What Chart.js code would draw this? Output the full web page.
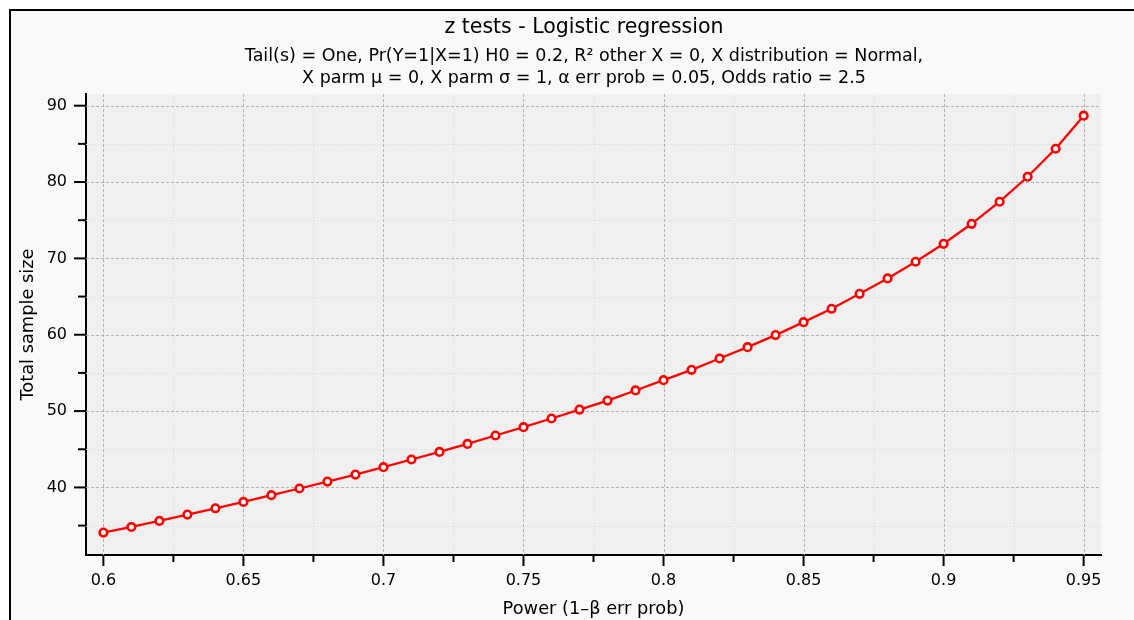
<!DOCTYPE html>
<html>
<head>
<meta charset="utf-8">
<script src="https://cdn.jsdelivr.net/npm/chart.js@4.4.1/dist/chart.umd.min.js"></script>
<style>
  html, body { margin: 0; padding: 0; background: #fff; }
  #frame {
    position: absolute; left: 9px; top: 9px; right: -4px; bottom: -4px;
    background: #f9f9f9; border-top: 2px solid #000; border-left: 2px solid #000;
  }
  #chart { position: absolute; left: 0; top: 0; }
</style>
</head>
<body>
<div id="frame"></div>
<canvas id="chart" width="1134" height="620"></canvas>
<script>
// Power (1-beta) on x, total sample size on y
const powerValues = [0.6, 0.61, 0.62, 0.63, 0.64, 0.65, 0.66, 0.67, 0.68, 0.69,
  0.7, 0.71, 0.72, 0.73, 0.74, 0.75, 0.76, 0.77, 0.78, 0.79,
  0.8, 0.81, 0.82, 0.83, 0.84, 0.85, 0.86, 0.87, 0.88, 0.89,
  0.9, 0.91, 0.92, 0.93, 0.94, 0.95];
const sampleSizes = [34.09, 34.82, 35.61, 36.45, 37.27, 38.10, 38.98, 39.86, 40.77, 41.69,
  42.65, 43.66, 44.65, 45.70, 46.80, 47.89, 49.03, 50.2, 51.38, 52.70,
  54.05, 55.40, 56.89, 58.37, 59.95, 61.65, 63.40, 65.36, 67.38, 69.56,
  71.91, 74.53, 77.42, 80.69, 84.36, 88.69];

// tick values (major ones get labels)
const xTicks = [0.6, 0.625, 0.65, 0.675, 0.7, 0.725, 0.75, 0.775, 0.8, 0.825,
  0.85, 0.875, 0.9, 0.925, 0.95];
const xMajor = [0.6, 0.65, 0.7, 0.75, 0.8, 0.85, 0.9, 0.95];
const yTicks = [35, 40, 45, 50, 55, 60, 65, 70, 75, 80, 85, 90];
const yMajor = [40, 50, 60, 70, 80, 90];

const chartTitle = 'z tests - Logistic regression';
const chartSubtitle = [
  'Tail(s) = One, Pr(Y=1|X=1) H0 = 0.2, R² other X = 0, X distribution = Normal,',
  'X parm μ = 0, X parm σ = 1, α err prob = 0.05, Odds ratio = 2.5'
];
const xTitle = 'Power (1–β err prob)';
const yTitle = 'Total sample size';

const FONT = 'DejaVu Sans';

function isMajor(list, v) {
  return list.some(m => Math.abs(m - v) < 1e-9);
}

// plot background, grid lines and tick marks
const plotDecor = {
  id: 'plotDecor',
  afterLayout(chart) {
    // titles are centred on the frame, not on the canvas
    chart.boxes.filter(b => b.position === 'top').forEach(b => {
      b.left = 34;
      b.right = 1134;
    });
  },
  beforeDraw(chart) {
    const { ctx, chartArea: a } = chart;
    ctx.save();
    ctx.fillStyle = '#f0f0f0';
    ctx.fillRect(a.left, a.top, a.right - a.left, a.bottom - a.top);
    ctx.restore();
  },
  beforeDatasetsDraw(chart) {
    const { ctx, chartArea: a, scales: { x, y } } = chart;
    ctx.save();
    ctx.lineWidth = 1;
    // minor first, then major on top
    [false, true].forEach(major => {
      ctx.strokeStyle = major ? '#b3b3b3' : '#d9d9d9';
      ctx.setLineDash(major ? [3, 2] : [1, 2]);
      x.ticks.forEach(t => {
        if (t.major !== major) return;
        const px = Math.round(x.getPixelForValue(t.value)) + 0.5;
        ctx.beginPath();
        ctx.moveTo(px, a.top);
        ctx.lineTo(px, a.bottom);
        ctx.stroke();
      });
      y.ticks.forEach(t => {
        if (t.major !== major) return;
        const py = Math.round(y.getPixelForValue(t.value)) + 0.5;
        ctx.beginPath();
        ctx.moveTo(a.left, py);
        ctx.lineTo(a.right, py);
        ctx.stroke();
      });
    });
    ctx.restore();
  },
  afterDraw(chart) {
    const { ctx, chartArea: a, scales: { x, y } } = chart;
    ctx.save();
    ctx.strokeStyle = '#000';
    ctx.lineWidth = 2;
    ctx.setLineDash([]);
    x.ticks.forEach(t => {
      const px = x.getPixelForValue(t.value);
      ctx.beginPath();
      ctx.moveTo(px, a.bottom);
      ctx.lineTo(px, a.bottom + (t.major ? 11 : 7));
      ctx.stroke();
    });
    y.ticks.forEach(t => {
      const py = y.getPixelForValue(t.value);
      ctx.beginPath();
      ctx.moveTo(a.left, py);
      ctx.lineTo(a.left - (t.major ? 12 : 8), py);
      ctx.stroke();
    });
    ctx.restore();
  }
};

const points = powerValues.map((p, i) => ({ x: p, y: sampleSizes[i] }));

new Chart(document.getElementById('chart'), {
  type: 'line',
  data: {
    datasets: [{
      data: points,
      borderColor: '#ff0000',
      borderWidth: 2.3,
      tension: 0,
      pointRadius: 3.8,
      pointHoverRadius: 3.8,
      pointBorderWidth: 2.6,
      pointBackgroundColor: '#ffffff',
      pointBorderColor: '#ff0000'
    }]
  },
  options: {
    responsive: false,
    animation: false,
    layout: { padding: { top: 10, right: 33, bottom: 0, left: 0 } },
    plugins: {
      legend: { display: false },
      tooltip: { enabled: false },
      title: {
        display: true,
        text: chartTitle,
        color: '#000',
        font: { family: FONT, size: 20.5, weight: 'normal', lineHeight: '24.6px' },
        padding: { top: 5.7, bottom: 1 }
      },
      subtitle: {
        display: true,
        text: chartSubtitle,
        color: '#000',
        font: { family: FONT, size: 17.5, weight: 'normal', lineHeight: '21.6px' },
        padding: { top: 4.6, bottom: 4.9 }
      }
    },
    scales: {
      x: {
        type: 'linear',
        min: 0.5938,
        max: 0.9562,
        afterBuildTicks: scale => {
          scale.ticks = xTicks.map(v => ({ value: v, major: isMajor(xMajor, v) }));
        },
        afterFit: scale => { scale.height = 65; },
        ticks: {
          autoSkip: false,
          maxRotation: 0,
          color: '#000',
          padding: 16,
          font: { family: FONT, size: 16 },
          callback: (v, i, ticks) => ticks[i].major ? String(+v.toFixed(3)) : ''
        },
        grid: { display: true, drawOnChartArea: false, drawTicks: false },
        border: { display: true, color: '#000', width: 2 },
        title: {
          display: true,
          text: xTitle,
          color: '#000',
          font: { family: FONT, size: 17.8 },
          padding: { top: 8, bottom: 0 }
        }
      },
      y: {
        type: 'linear',
        min: 31.15,
        max: 91.53,
        afterBuildTicks: scale => {
          scale.ticks = yTicks.map(v => ({ value: v, major: isMajor(yMajor, v) }));
        },
        afterFit: scale => { scale.width = 86; },
        ticks: {
          autoSkip: false,
          color: '#000',
          padding: 19,
          font: { family: FONT, size: 16 },
          callback: (v, i, ticks) => ticks[i].major ? String(v) : ''
        },
        grid: { display: true, drawOnChartArea: false, drawTicks: false },
        border: { display: true, color: '#000', width: 2 },
        title: {
          display: true,
          text: yTitle,
          color: '#000',
          font: { family: FONT, size: 17.8 },
          padding: { top: 18, bottom: 0 }
        }
      }
    }
  },
  plugins: [plotDecor]
});
</script>
</body>
</html>
